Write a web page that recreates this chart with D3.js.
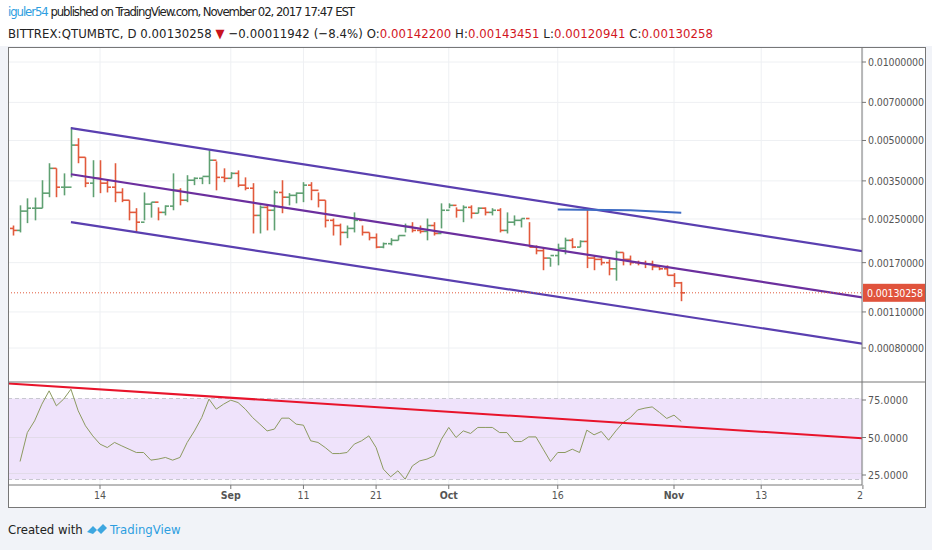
<!DOCTYPE html>
<html><head><meta charset="utf-8">
<script src="https://cdn.jsdelivr.net/npm/d3@7"></script>
<style>
body{margin:0;background:#f1f3f8;}
svg text{font-family:"Liberation Sans Narrow","DejaVu Sans Condensed",sans-serif;}
</style></head><body>
<svg id="chart" width="932" height="550"></svg>
<script>
// bars are daily, first bar Aug 2 2017 ; prices in 1e-5 BTC
var startDate = new Date(2017, 7, 2);
var opens  = [230,226,268,275,275,314,391,331,331,480,431,343,358,343,331,316,295,265,243,285,290,265,280,322,295,352,358,364,420,361,358,374,337,328,258,277,270,316,303,308,314,337,322,295,247,236,222,230,247,222,212,195,201,207,216,234,226,224,236,220,270,282,270,277,263,275,265,270,226,243,247,251,195,189,177,181,193,207,195,205,177,175,170,161,186,175,170,169,168,164,161,152,142.2];
var highs  = [236,282,300,302,352,409,391,374,563,510,431,420,420,352,409,328,295,275,316,290,277,282,374,328,368,361,361,459,416,391,378,384,361,343,282,282,322,352,314,316,346,346,316,295,251,240,236,265,236,222,220,203,211,216,240,243,236,251,243,287,287,277,282,282,277,277,275,275,265,258,251,243,198,195,177,201,212,211,207,275,181,177,175,189,186,181,173,173,173,166,166,155,143.451];
var lows   = [216,222,241,247,275,303,303,308,361,409,331,303,314,316,290,290,247,222,247,253,247,258,270,282,290,337,340,340,322,346,358,331,322,220,220,226,226,263,282,287,290,295,277,232,216,198,211,222,216,207,193,193,198,207,222,222,220,207,216,230,275,253,243,251,263,258,258,222,220,236,232,195,183,159,164,166,183,193,195,162,159,166,152,145,166,166,166,162,159,159,152,137,120.941];
var closes = [226,268,275,275,314,391,331,331,480,431,343,358,343,331,316,295,265,243,285,290,265,280,322,295,352,358,364,420,361,358,374,337,328,258,277,270,316,303,308,314,337,322,295,247,236,222,230,247,222,212,195,201,207,216,234,226,224,236,220,270,282,270,277,263,275,265,270,226,243,247,251,195,189,177,181,193,207,195,205,177,175,170,161,186,175,170,169,168,164,161,152,142.2,130.258];
// RSI from bar 1
var rsi = [34,53.3,61.1,72.2,81.1,71.1,75.6,82.2,67.8,57.8,51.1,45.6,43.3,46.7,44.4,42.2,40,40,34.9,35.6,36.7,34.9,36.7,46.7,54.4,63.3,75.6,68.9,72.2,74.9,73.3,68.9,63.3,58.9,54.4,55.6,62.9,62.9,58.9,58.2,47.8,46.7,43.3,39.3,39.3,40,45.6,47.8,51.1,43.3,28.9,23.8,27.8,22.2,31.1,34.4,35.6,37.8,48.9,56.7,50,54.4,52.7,56.7,56.7,56.7,53.3,53.3,47.3,47.3,50.4,50.4,42.2,34,40,40,42.2,40,54.9,51.8,54,48.2,54.4,60,63.3,68.4,69.6,70.4,66.7,62.7,64.9,60.7];
var priceTicks = [0.01,0.007,0.005,0.0035,0.0025,0.0017,0.0011,0.0008];
var rsiTicks = [75,50,25];
var timeTicks = [[new Date(2017,7,14),'14',false],[new Date(2017,8,1),'Sep',true],[new Date(2017,8,11),'11',false],[new Date(2017,8,21),'21',false],[new Date(2017,9,1),'Oct',true],[new Date(2017,9,16),'16',false],[new Date(2017,10,1),'Nov',true],[new Date(2017,10,13),'13',false],[new Date(2017,10,27),'27',false]];
// drawn lines: [bar index, price]
var chanUpper = [[8,0.00558],[116.9,0.00188]];
var chanMid   = [[8,0.00371],[116.9,0.00125]];
var chanLower = [[8,0.00243],[116.9,0.000832]];
var blueLine  = [[75,0.00272],[85,0.00270],[92,0.00264]];
var rsiTrend  = [[-0.6,86],[116.9,49.5]];

var svg = d3.select('#chart');
var L = 8, R = 862, FR = 925, T = 47, MB = 382, RB = 485, FB = 507;
function dayOf(i){ return d3.timeDay.offset(startDate, i); }
var x = d3.scaleTime().domain([new Date(2017,7,14), new Date(2017,10,1)]).range([100, 674]);
var xi = function(i){ return x(dayOf(0)) + i * (x(dayOf(1)) - x(dayOf(0))); };
var y = d3.scaleLog().domain([0.01, 0.0008]).range([62, 348]);
var yr = d3.scaleLinear().domain([75, 25]).range([400, 475]);

svg.append('rect').attr('x',0).attr('y',0).attr('width',932).attr('height',46).attr('fill','#fff');
svg.append('rect').attr('x',L).attr('y',T).attr('width',FR-L).attr('height',FB-T).attr('fill','#fff');
svg.append('clipPath').attr('id','cm').append('rect').attr('x',L).attr('y',T).attr('width',R-L).attr('height',MB-T);
svg.append('clipPath').attr('id','cr').append('rect').attr('x',L).attr('y',MB).attr('width',R-L).attr('height',RB-MB);

// grid
var grid = svg.append('g').attr('stroke','#eef0f3');
priceTicks.forEach(function(t){ grid.append('line').attr('x1',L).attr('x2',R).attr('y1',y(t)).attr('y2',y(t)); });
timeTicks.forEach(function(t){ grid.append('line').attr('x1',x(t[0])).attr('x2',x(t[0])).attr('y1',T).attr('y2',RB); });

// axes
var pa = svg.append('g').attr('font-size',10.5).attr('fill','#555');
priceTicks.forEach(function(t){
  pa.append('line').attr('x1',R).attr('x2',R+4).attr('y1',y(t)).attr('y2',y(t)).attr('stroke','#777');
  pa.append('text').attr('x',R+6).attr('y',y(t)+4).attr('textLength',56).text(t.toFixed(8));
});
rsiTicks.forEach(function(t){
  pa.append('line').attr('x1',R).attr('x2',R+4).attr('y1',yr(t)).attr('y2',yr(t)).attr('stroke','#777');
  pa.append('text').attr('x',R+6).attr('y',yr(t)+4).attr('textLength',40).text(t.toFixed(4));
});
timeTicks.forEach(function(t){
  pa.append('line').attr('x1',x(t[0])).attr('x2',x(t[0])).attr('y1',RB).attr('y2',RB+4).attr('stroke','#777');
  if (x(t[0]) < R) pa.append('text').attr('x',x(t[0])).attr('y',RB+14).attr('text-anchor','middle')
    .attr('font-weight',t[2]?'bold':'normal').text(t[1]);
});
svg.append('clipPath').attr('id','ct').append('rect').attr('x',L).attr('y',RB).attr('width',R-L+1).attr('height',20);
pa.append('text').attr('clip-path','url(#ct)').attr('x',x(timeTicks[8][0])).attr('y',RB+14).attr('text-anchor','middle').text(timeTicks[8][1]);

// bars
var gm = svg.append('g').attr('clip-path','url(#cm)');
closes.forEach(function(c, i){
  var col = c < opens[i] ? '#e25a3c' : '#5fa072';
  var cx = Math.round(xi(i)) + 0.5;
  gm.append('line').attr('x1',cx).attr('x2',cx).attr('y1',y(highs[i]*1e-5)).attr('y2',y(lows[i]*1e-5)).attr('stroke',col).attr('stroke-width',1.6);
  gm.append('line').attr('x1',cx-3.5).attr('x2',cx).attr('y1',y(opens[i]*1e-5)).attr('y2',y(opens[i]*1e-5)).attr('stroke',col).attr('stroke-width',1.6);
  gm.append('line').attr('x1',cx).attr('x2',cx+3.5).attr('y1',y(c*1e-5)).attr('y2',y(c*1e-5)).attr('stroke',col).attr('stroke-width',1.6);
});
var pl = d3.line().x(function(d){ return xi(d[0]); }).y(function(d){ return y(d[1]); });
[chanUpper, chanLower].forEach(function(l){ gm.append('path').attr('d',pl(l)).attr('stroke','#5a3fb0').attr('stroke-width',2.2).attr('fill','none'); });
gm.append('path').attr('d',pl(chanMid)).attr('stroke','#6b2f9e').attr('stroke-width',2.2).attr('fill','none');
gm.append('path').attr('d',pl(blueLine)).attr('stroke','#3d6bc4').attr('stroke-width',2).attr('fill','none');
var last = closes[closes.length-1]*1e-5;
gm.append('line').attr('x1',L).attr('x2',R).attr('y1',y(last)).attr('y2',y(last)).attr('stroke','#e25a3c').attr('stroke-dasharray','1,2');
svg.append('rect').attr('x',R+1).attr('y',y(last)-9).attr('width',FR-R-1).attr('height',18).attr('fill','#e0533c');
svg.append('text').attr('x',R+5).attr('y',y(last)+4).attr('font-size',10.5).attr('textLength',56).attr('fill','#fff').text(last.toFixed(8));

// RSI pane
var gr = svg.append('g').attr('clip-path','url(#cr)');
gr.append('rect').attr('x',L).attr('y',yr(76)).attr('width',R-L).attr('height',yr(22)-yr(76)).attr('fill','#efe3fb');
[76,22].forEach(function(v){ gr.append('line').attr('x1',L).attr('x2',R).attr('y1',yr(v)).attr('y2',yr(v)).attr('stroke','#c8c8d0').attr('stroke-dasharray','4,3'); });
[50,26].forEach(function(v){ gr.append('line').attr('x1',L).attr('x2',R).attr('y1',yr(v)).attr('y2',yr(v)).attr('stroke','#e2dbe9'); });
var rl = d3.line().x(function(d, i){ return xi(i+1); }).y(function(d){ return yr(d); });
gr.append('path').attr('d',rl(rsi)).attr('stroke','#8c9a60').attr('stroke-width',1).attr('fill','none');
gr.append('path').attr('d',d3.line().x(function(d){ return xi(d[0]); }).y(function(d){ return yr(d[1]); })(rsiTrend))
  .attr('stroke','#e8142b').attr('stroke-width',2).attr('fill','none');

// frame
svg.append('rect').attr('x',L+0.5).attr('y',T+0.5).attr('width',FR-L).attr('height',FB-T).attr('fill','none').attr('stroke','#777');
svg.append('line').attr('x1',L).attr('x2',FR).attr('y1',MB).attr('y2',MB).attr('stroke','#777');
svg.append('line').attr('x1',R).attr('x2',R).attr('y1',T).attr('y2',RB).attr('stroke','#777');
svg.append('line').attr('x1',L).attr('x2',R).attr('y1',RB).attr('y2',RB).attr('stroke','#777');

// header
var h1 = svg.append('text').attr('x',8).attr('y',16).attr('font-size',13).attr('fill','#222').attr('textLength',347);
h1.append('tspan').attr('fill','#2d9ee0').text('iguler54');
h1.append('tspan').text(' published on TradingView.com, November 02, 2017 17:47 EST');
var h2 = svg.append('text').attr('x',8).attr('y',38).attr('font-size',13).attr('fill','#222').attr('textLength',705);
h2.append('tspan').text('BITTREX:QTUMBTC, D  0.00130258 ');
h2.append('tspan').attr('fill','#c9141e').text('▼');
h2.append('tspan').text(' −0.00011942 (−8.4%) O:');
h2.append('tspan').attr('fill','#d2161e').text('0.00142200');
h2.append('tspan').text(' H:');
h2.append('tspan').attr('fill','#d2161e').text('0.00143451');
h2.append('tspan').text(' L:');
h2.append('tspan').attr('fill','#d2161e').text('0.00120941');
h2.append('tspan').text(' C:');
h2.append('tspan').attr('fill','#d2161e').text('0.00130258');

// footer
svg.append('text').attr('x',8).attr('y',534).attr('font-size',13).attr('fill','#222').text('Created with');
var logo = svg.append('g').attr('transform','translate(87,522)');
logo.append('path').attr('d','M0,10 L6,4 L10,8 L16,2 L20,6 L14,12 L10,8 L6,12 Z').attr('fill','#3ea7e0');
svg.append('text').attr('x',110).attr('y',534).attr('font-size',13).attr('fill','#2d9ee0').text('TradingView');
</script></body></html>
